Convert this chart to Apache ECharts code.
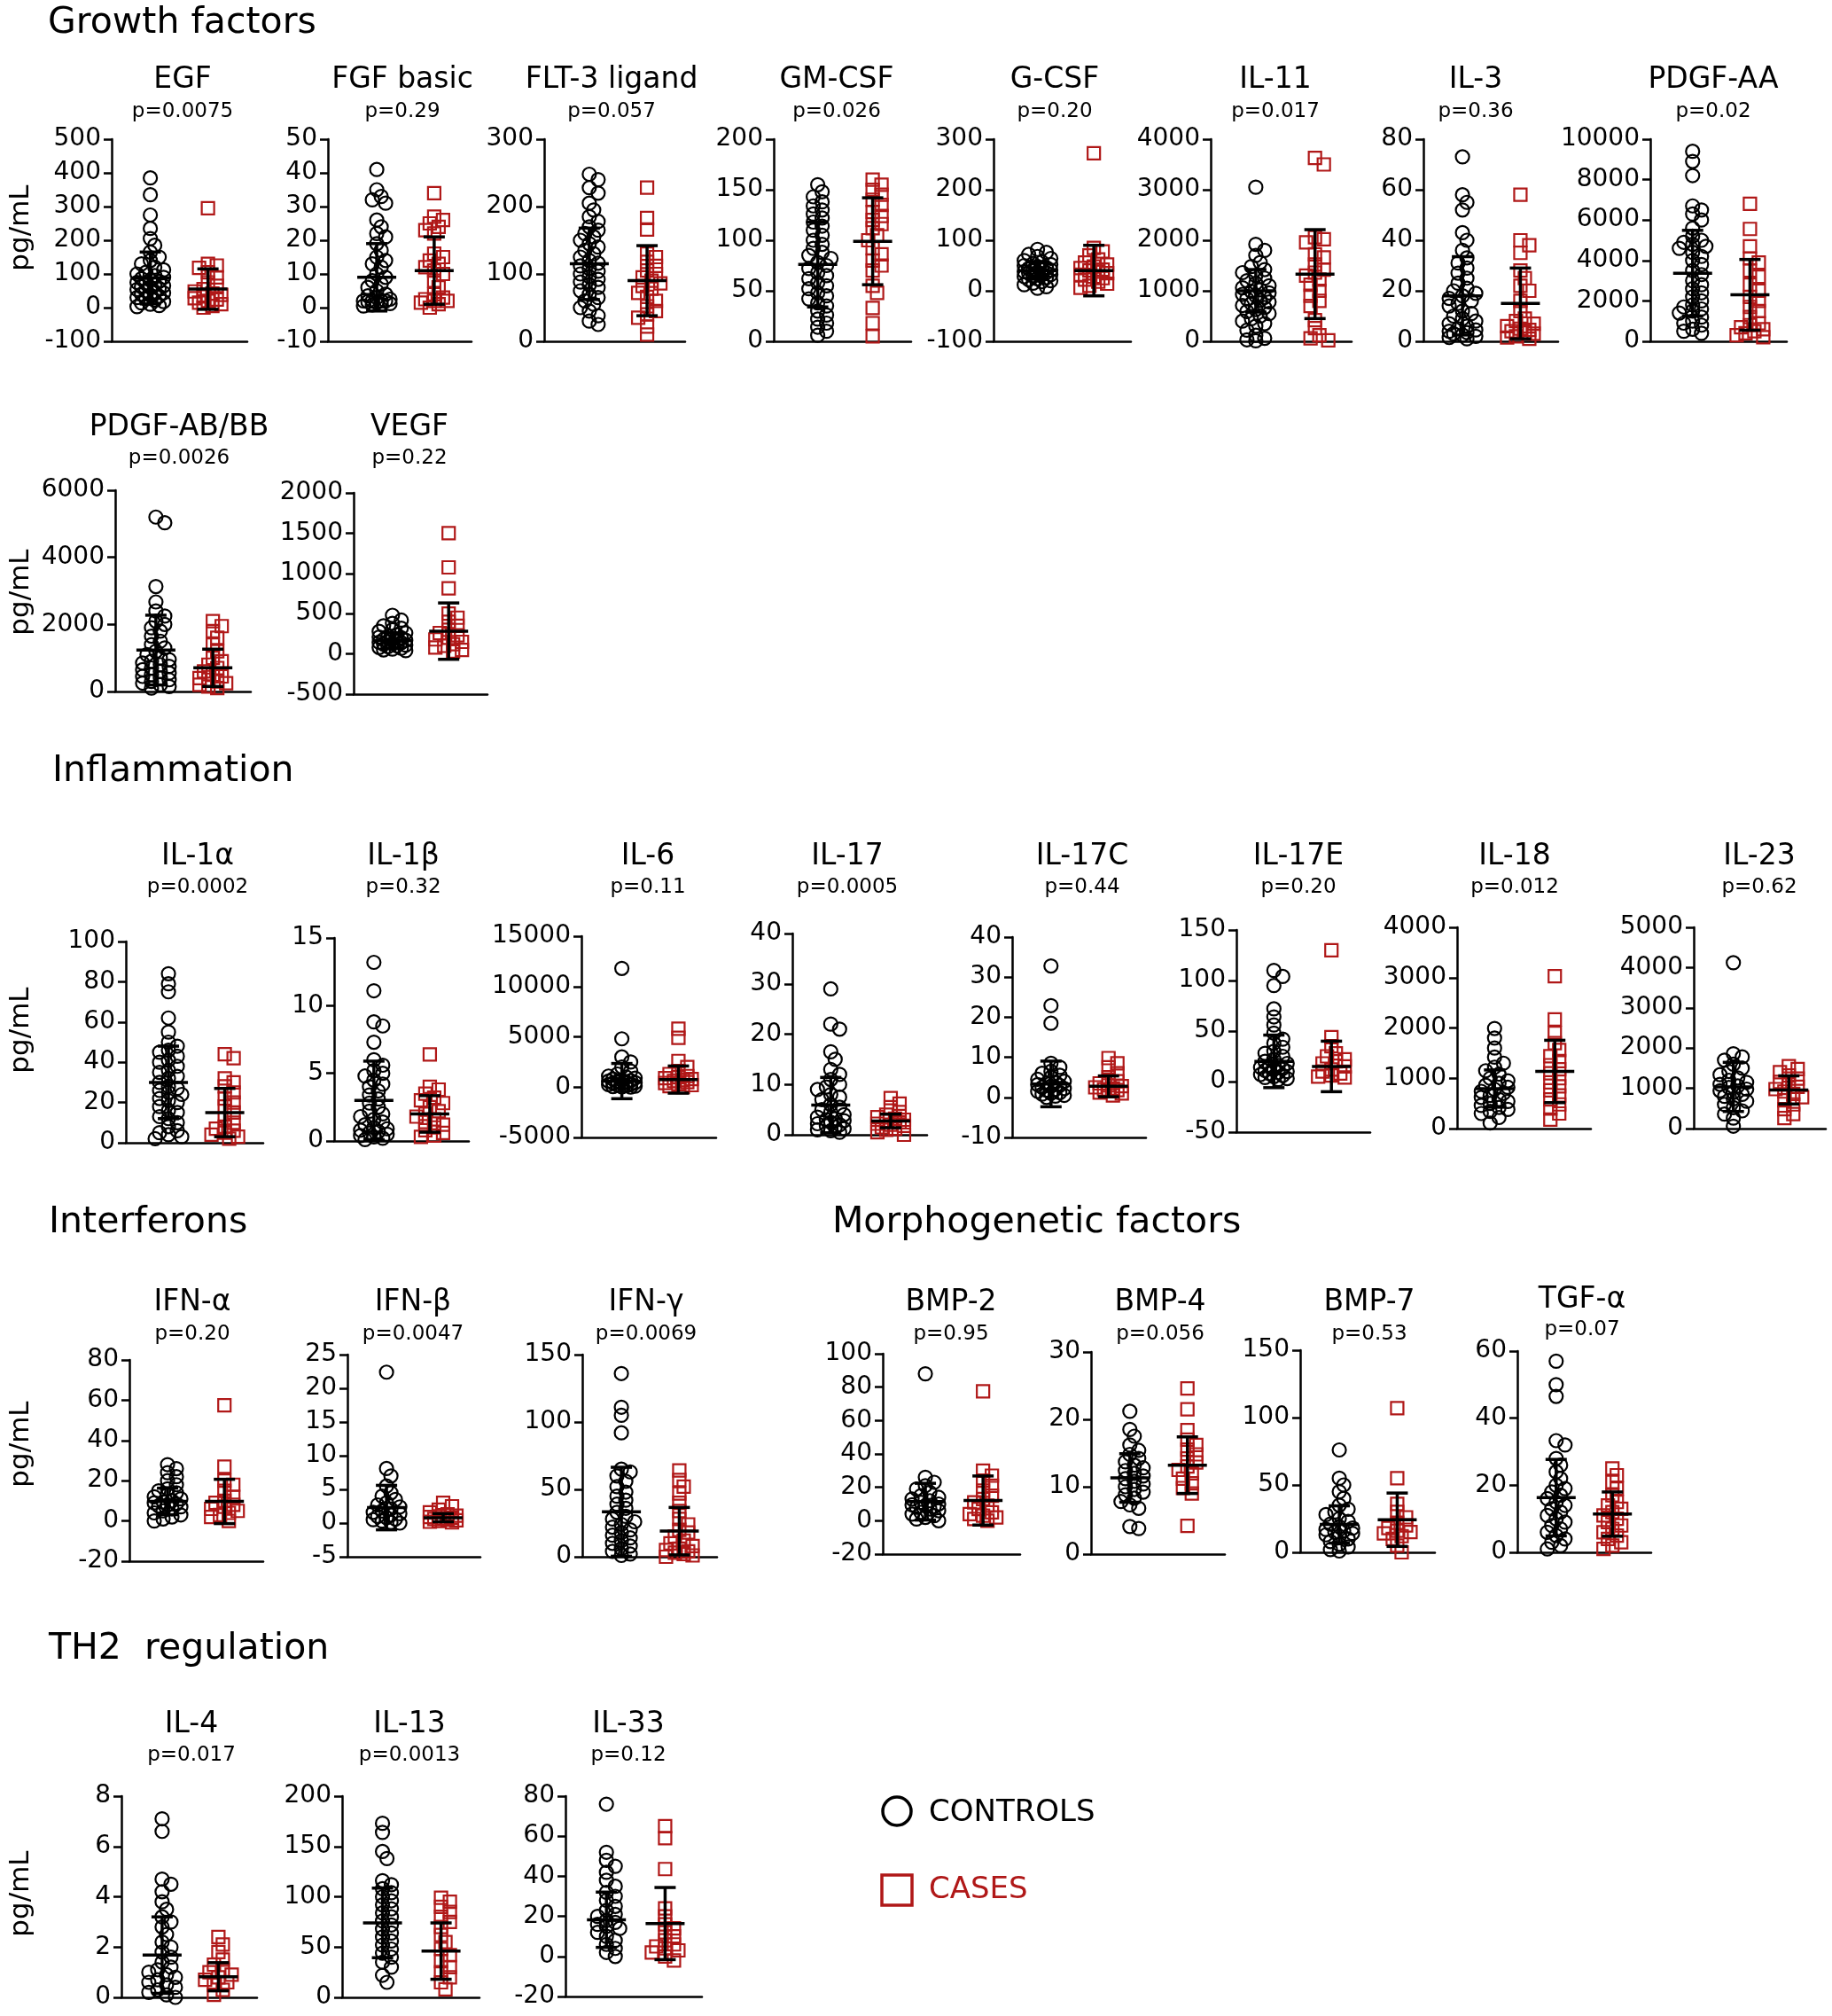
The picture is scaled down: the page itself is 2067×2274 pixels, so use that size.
<!DOCTYPE html>
<html><head><meta charset="utf-8">
<script src="https://cdn.jsdelivr.net/npm/echarts@6/dist/echarts.min.js"></script>
<style>html,body{margin:0;padding:0;background:#fff}#c{width:2067px;height:2274px}</style>
</head><body><div id="c"></div>
<script>
// ---------- DATA (pg/mL) ----------
const egfCtrl = [385,335,275,235,205,185,165,150,140,130,120,112,105,100,95,90,86,82,78,75,72,68,65,62,60,57,54,50,47,44,40,37,34,30,26,22,18,14,10,6,3];
const egfCase = [295,130,125,118,105,90,75,65,55,48,42,38,33,28,24,20,15,10,5,0];
const egfMean = [88,55], egfSD = [77,60];

const fgfCtrl = [41,35,33,32,31,26,24,22,21,19,17,15,14,13,12,10,9,8,7,6,5,4,3.5,3,2.5,2,2,2,2,1.8,1.5,1.2,1,0.8,0.5];
const fgfCase = [34,27,26,25,24,23,22,16,15,14,13,12,11,10,8,6,4,3,2.5,2,2,1.5,1,0];
const fgfMean = [9,11], fgfSD = [10,10];

const flt3Ctrl = [248,240,228,220,205,195,185,178,170,165,160,155,150,145,140,135,130,125,120,116,112,108,104,100,96,92,88,84,80,75,70,65,60,55,50,45,38,30,25];
const flt3Case = [228,183,166,130,125,118,112,105,100,95,90,86,82,78,72,66,60,52,45,40,35,22,10];
const flt3Mean = [115,90], flt3SD = [53,52];

const gmcsfCtrl = [155,148,143,138,134,130,126,122,118,114,110,105,100,96,92,88,85,82,78,75,72,68,65,62,58,55,52,48,45,42,38,35,30,26,22,18,14,10,6];
const gmcsfCase = [160,155,150,145,140,135,128,124,120,116,112,105,100,92,86,80,75,70,55,48,33,18,5];
const gmcsfMean = [76,99], gmcsfSD = [42,43];

const gcsfCtrl = [82,76,72,68,64,60,57,54,52,50,48,46,44,42,41,40,38,37,36,35,33,32,30,28,26,24,22,20,18,15,12,8,5];
const gcsfCase = [272,85,78,70,62,56,52,48,45,42,40,38,35,32,28,25,22,18,14,10,6];
const gcsfMean = [40,40], gcsfSD = [17,50];

const il11Ctrl = [3050,1920,1800,1700,1560,1480,1420,1360,1300,1250,1200,1150,1100,1060,1020,990,960,930,900,870,840,810,780,750,710,670,630,590,550,500,450,400,350,300,220,120,60,30,10];
const il11Case = [3630,3500,2060,2020,1960,1720,1660,1520,1420,1360,1300,1220,1120,1000,900,800,700,420,260,120,60,20];
const il11Mean = [1000,1330], il11SD = [420,880];

const il3Ctrl = [73,58,55,52,43,40,36,33,31,29,27,25,23,21,20,19,18,17,16,15,14,12,11,10,9,8,7,6,5,4.5,4,3.5,3,2.5,2,1.5,1];
const il3Case = [58,40,38,35,28,25,22,20,16,12,9,8,7,6,5,4.5,4,3.5,3,2,1.5,1];
const il3Mean = [18,15], il3SD = [15.5,14];

const pdgfaaCtrl = [9400,8900,8200,6700,6500,6300,6000,5600,5200,5000,4900,4800,4700,4600,4400,4200,4000,3800,3500,3300,3000,2800,2600,2400,2200,2000,1800,1700,1600,1500,1400,1200,1000,900,800,600,500,400];
const pdgfaaCase = [6800,5560,4700,4100,3900,3500,3200,2800,2500,2200,2000,1700,1500,1200,900,800,700,600,500,400,300,200];
const pdgfaaMean = [3370,2300], pdgfaaSD = [2120,1750];

const pdgfabCtrl = [5200,5030,3130,2670,2400,2250,2100,2000,1900,1800,1650,1500,1400,1300,1200,1100,1000,950,900,850,800,750,700,650,600,550,500,450,400,350,300,250,200,150,100];
const pdgfabCase = [2100,1950,1800,1600,1400,1200,1000,900,800,700,600,500,450,400,350,300,250,200,150,100];
const pdgfabMean = [1235,706], pdgfabSD = [1040,556];

const vegfCtrl = [480,420,380,350,320,300,280,260,240,220,210,200,190,180,170,160,150,145,140,130,120,110,100,90,80,70,60,50,40];
const vegfCase = [1500,1075,815,500,450,400,350,300,260,230,200,180,150,120,100,80,50,30];
const vegfMean = [165,283], vegfSD = [100,350];

const il1aCtrl = [84,79,75,62,55,50,48,46,45,43,41,40,38,36,35,33,32,30,28,27,26,25,24,22,21,20,18,16,15,13,12,10,8,6,5,4,3,2];
const il1aCase = [44,42,32,30,28,25,22,20,18,15,12,10,8,7,6,5,4,3,2];
const il1aMean = [30,15], il1aSD = [18,12];

const il1bCtrl = [13.2,11.1,8.8,8.5,7.3,6,5.6,5.2,5,4.8,4.5,4.2,4,3.7,3.4,3.1,2.8,2.5,2.2,2,1.8,1.6,1.4,1.2,1,0.9,0.8,0.7,0.6,0.5,0.4,0.3,0.2,0.1];
const il1bCase = [6.4,4,3.8,3.5,3.2,3,2.8,2.5,2.2,2,1.8,1.6,1.4,1.2,1,0.8,0.6,0.4,0.3];
const il1bMean = [3.0,2.0], il1bSD = [2.9,1.35];

const il6Ctrl = [11800,4800,3000,2500,2000,1600,1300,1100,1000,900,800,700,650,600,550,500,450,400,350,300,250,200,150,100,50,20,0];
const il6Case = [5800,4900,2600,2000,1600,1300,1100,1000,900,800,700,600,500,400,300,200,100,0];
const il6Mean = [600,750], il6SD = [1750,1350];

const il17Ctrl = [29,22,21,16.5,15,13,12,11,10,9.5,9,8,7.5,7,6,5.5,5,4.5,4,3.5,3.2,3,2.8,2.5,2.2,2,1.8,1.5,1.2,1,0.8,0.5];
const il17Case = [7.3,6.2,5.5,4.5,4,3.5,3.2,3,2.8,2.5,2.2,2,1.8,1.5,1.2,1,0.5,0];
const il17Mean = [5.9,2.75], il17SD = [5.5,1.35];

const il17cCtrl = [32.8,22.9,18.5,8.5,7.5,6.5,6,5.5,5,4.5,4,3.8,3.5,3.2,3,2.8,2.5,2.2,2,1.8,1.5,1.2,1,0.8,0.5,0.3,0];
const il17cCase = [9.8,8.5,7.5,6,5,4,3.5,3,2.8,2.5,2.2,2,1.8,1.5,1.2,1,0.5];
const il17cMean = [3.35,2.75], il17cSD = [5.7,2.6];

const il17eCtrl = [110,104,95,72,64,56,48,42,38,34,30,28,25,22,20,18,16,15,14,13,12,11,10,9,8,7,6,5,4,3,2];
const il17eCase = [130,44,35,28,25,22,20,18,15,12,10,8,6,5,4];
const il17eMean = [20,15], il17eSD = [26,25];

const il18Ctrl = [1990,1800,1600,1420,1300,1220,1150,1080,1000,950,900,860,820,780,740,700,660,620,580,540,500,460,420,380,340,300,220,110];
const il18Case = [3030,2170,1900,1700,1560,1440,1340,1260,1180,1100,1000,920,840,760,660,580,480,400,300,180];
const il18Mean = [795,1135], il18SD = [370,620];

const il23Ctrl = [4120,1860,1780,1700,1600,1500,1420,1340,1260,1200,1150,1100,1060,1020,980,940,900,850,800,740,680,600,520,440,360,260,60];
const il23Case = [1550,1480,1400,1320,1240,1160,1100,1040,980,920,860,780,700,600,480,360,260];
const il23Mean = [1035,960], il23SD = [610,350];

const ifnaCtrl = [28,26,24,22,20,18,16,15,14,13,12,11,10,9.5,9,8.5,8,7.5,7,6,5,4,3,2,1,0];
const ifnaCase = [57.5,27,20,18,15,12,10,9,8,7,6,5,4,3,2,0];
const ifnaMean = [9.7,9.7], ifnaSD = [6.6,11];

const ifnbCtrl = [22.4,8.1,7,5.5,4.5,4,3.5,3,2.7,2.4,2.1,1.8,1.6,1.4,1.2,1,0.8,0.6,0.5,0.3,0.1,0];
const ifnbCase = [3,2.5,2,1.6,1.3,1.1,1,0.9,0.8,0.7,0.6,0.5,0.4,0.3,0.2,0.1];
const ifnbMean = [2.3,0.8], ifnbSD = [3.3,0.6];

const ifngCtrl = [136,111,105,92,65,63,60,56,52,48,45,42,39,36,33,30,28,26,24,22,20,18,16,14,12,10,8,6,4,2,1];
const ifngCase = [64,57,52,47,40,34,28,24,20,18,15,12,10,8,6,5,4,3,2,1,0];
const ifngMean = [33.4,19], ifngSD = [33,17.6];

const bmp2Ctrl = [88,26,23,21,19,17,15,14,13,12,11,10,9.5,9,8.5,8,7,6,5,4,3,2,1,0];
const bmp2Case = [77.5,30,27,24,21,18,15,13,11,9,7,5,4,3,2,1,0];
const bmp2Mean = [11.4,12.1], bmp2SD = [11,14.7];

const bmp4Ctrl = [21.2,18.5,17.5,16.2,15.4,14.8,14.2,13.7,13.2,12.8,12.4,12,11.6,11.2,10.8,10.4,10,9.6,9.2,8.8,8.3,7.8,7.3,6.8,4.1,3.8];
const bmp4Case = [24.6,21.5,18.4,17,16.2,15.5,14.8,14.2,13.6,13,12.5,12,11.2,10.5,9.8,9,4.2];
const bmp4Mean = [11.3,13.2], bmp4SD = [3.6,4.2];

const bmp7Ctrl = [76,55,50,45,40,35,32,30,28,25,23,21,19,18,17,16,15,14,13,12,10,8,6,4,2,1];
const bmp7Case = [107,55,36,30,26,22,20,18,16,15,14,12,10,5,0];
const bmp7Mean = [20.7,24.2], bmp7SD = [13.8,19.8];

const tgfaCtrl = [57,50,46.5,33.3,32,28,26,24,22,20,19,18,17,16,15,14,13,12,11,10,9,8,7,6,5,4,3,2,1];
const tgfaCase = [25,23,21,19,17,15,14,13,12,11,10,9,8,7,6,5,4,3,2,1];
const tgfaMean = [16.3,11.4], tgfaSD = [11.4,6.6];

const il4Ctrl = [7.1,6.6,4.7,4.5,4.2,3.8,3.5,3.2,3,2.8,2.5,2.2,2,1.8,1.6,1.4,1.2,1.1,1,0.9,0.8,0.7,0.6,0.5,0.4,0.3,0.2,0.1,0];
const il4Case = [2.4,2.1,1.8,1.5,1.3,1.1,1,0.9,0.8,0.7,0.6,0.5,0.3,0.1];
const il4Mean = [1.68,0.82], il4SD = [1.52,0.56];

const il13Ctrl = [173,164,145,138,116,112,108,104,100,96,92,88,84,80,76,72,68,64,60,56,52,48,44,40,35,30,22,15];
const il13Case = [99,95,90,85,80,75,70,62,55,48,42,36,30,25,20,15,8];
const il13Mean = [74,46], il13SD = [34.6,28];

const il33Ctrl = [76,52,48,45,42,38,35,32,30,28,25,23,21,20,18,17,16,15,14,12,10,8,6,4,2,0];
const il33Case = [65,59,43.6,24,20,16,14,12,10,8,6,5,4,3,2,0,-2];
const il33Mean = [18.3,16.4], il33SD = [13.8,18];

// ---------- PANELS (text + axis ranges + layout) ----------
const panels = [
 {n:'EGF',p:'p=0.0075',c:egfCtrl,k:egfCase,m:egfMean,s:egfSD,min:-100,max:500,iv:100,L:126,R:279,T:157,B:385,tx:206,ty:90,py:126,cx:.285,kx:.71},
 {n:'FGF basic',p:'p=0.29',c:fgfCtrl,k:fgfCase,m:fgfMean,s:fgfSD,min:-10,max:50,iv:10,L:370,R:532,T:157,B:385,tx:454,ty:90,py:126,cx:.34,kx:.74},
 {n:'FLT-3 ligand',p:'p=0.057',c:flt3Ctrl,k:flt3Case,m:flt3Mean,s:flt3SD,min:0,max:300,iv:100,L:614,R:773,T:157,B:385,tx:690,ty:90,py:126,cx:.32,kx:.73},
 {n:'GM-CSF',p:'p=0.026',c:gmcsfCtrl,k:gmcsfCase,m:gmcsfMean,s:gmcsfSD,min:0,max:200,iv:50,L:873,R:1028,T:157,B:385,tx:944,ty:90,py:126,cx:.32,kx:.72},
 {n:'G-CSF',p:'p=0.20',c:gcsfCtrl,k:gcsfCase,m:gcsfMean,s:gcsfSD,min:-100,max:300,iv:100,L:1121,R:1276,T:157,B:385,tx:1190,ty:90,py:126,cx:.32,kx:.73},
 {n:'IL-11',p:'p=0.017',c:il11Ctrl,k:il11Case,m:il11Mean,s:il11SD,min:0,max:4000,iv:1000,L:1366,R:1525,T:157,B:385,tx:1439,ty:90,py:126,cx:.32,kx:.74},
 {n:'IL-3',p:'p=0.36',c:il3Ctrl,k:il3Case,m:il3Mean,s:il3SD,min:0,max:80,iv:20,L:1606,R:1758,T:157,B:385,tx:1665,ty:90,py:126,cx:.29,kx:.72},
 {n:'PDGF-AA',p:'p=0.02',c:pdgfaaCtrl,k:pdgfaaCase,m:pdgfaaMean,s:pdgfaaSD,min:0,max:10000,iv:2000,L:1862,R:2016,T:157,B:385,tx:1933,ty:90,py:126,cx:.31,kx:.73},

 {n:'PDGF-AB/BB',p:'p=0.0026',c:pdgfabCtrl,k:pdgfabCase,m:pdgfabMean,s:pdgfabSD,min:0,max:6000,iv:2000,L:130,R:283,T:553,B:780,tx:202,ty:482,py:517,cx:.30,kx:.72},
 {n:'VEGF',p:'p=0.22',c:vegfCtrl,k:vegfCase,m:vegfMean,s:vegfSD,min:-500,max:2000,iv:500,L:399,R:550,T:556,B:783,tx:462,ty:482,py:517,cx:.29,kx:.71},

 {n:'IL-1α',p:'p=0.0002',c:il1aCtrl,k:il1aCase,m:il1aMean,s:il1aSD,min:0,max:100,iv:20,L:142,R:297,T:1062,B:1289,tx:223,ty:966,py:1001,cx:.31,kx:.72},
 {n:'IL-1β',p:'p=0.32',c:il1bCtrl,k:il1bCase,m:il1bMean,s:il1bSD,min:0,max:15,iv:5,L:377,R:529,T:1058,B:1287,tx:455,ty:966,py:1001,cx:.295,kx:.71},
 {n:'IL-6',p:'p=0.11',c:il6Ctrl,k:il6Case,m:il6Mean,s:il6SD,min:-5000,max:15000,iv:5000,L:656,R:808,T:1056,B:1283,tx:731,ty:966,py:1001,cx:.30,kx:.72},
 {n:'IL-17',p:'p=0.0005',c:il17Ctrl,k:il17Case,m:il17Mean,s:il17SD,min:0,max:40,iv:10,L:894,R:1046,T:1053,B:1280,tx:956,ty:966,py:1001,cx:.285,kx:.73},
 {n:'IL-17C',p:'p=0.44',c:il17cCtrl,k:il17cCase,m:il17cMean,s:il17cSD,min:-10,max:40,iv:10,L:1142,R:1293,T:1057,B:1283,tx:1221,ty:966,py:1001,cx:.29,kx:.72},
 {n:'IL-17E',p:'p=0.20',c:il17eCtrl,k:il17eCase,m:il17eMean,s:il17eSD,min:-50,max:150,iv:50,L:1395,R:1546,T:1049,B:1277,tx:1465,ty:966,py:1001,cx:.28,kx:.71},
 {n:'IL-18',p:'p=0.012',c:il18Ctrl,k:il18Case,m:il18Mean,s:il18SD,min:0,max:4000,iv:1000,L:1644,R:1795,T:1046,B:1273,tx:1709,ty:966,py:1001,cx:.28,kx:.73},
 {n:'IL-23',p:'p=0.62',c:il23Ctrl,k:il23Case,m:il23Mean,s:il23SD,min:0,max:5000,iv:1000,L:1911,R:2060,T:1046,B:1273,tx:1985,ty:966,py:1001,cx:.30,kx:.72},

 {n:'IFN-α',p:'p=0.20',c:ifnaCtrl,k:ifnaCase,m:ifnaMean,s:ifnaSD,min:-20,max:80,iv:20,L:146,R:297,T:1534,B:1761,tx:217,ty:1469,py:1505,cx:.285,kx:.71},
 {n:'IFN-β',p:'p=0.0047',c:ifnbCtrl,k:ifnbCase,m:ifnbMean,s:ifnbSD,min:-5,max:25,iv:5,L:392,R:542,T:1528,B:1756,tx:466,ty:1469,py:1505,cx:.294,kx:.72},
 {n:'IFN-γ',p:'p=0.0069',c:ifngCtrl,k:ifngCase,m:ifngMean,s:ifngSD,min:0,max:150,iv:50,L:657,R:809,T:1528,B:1756,tx:729,ty:1469,py:1505,cx:.29,kx:.72},
 {n:'BMP-2',p:'p=0.95',c:bmp2Ctrl,k:bmp2Case,m:bmp2Mean,s:bmp2SD,min:-20,max:100,iv:20,L:996,R:1151,T:1527,B:1753,tx:1073,ty:1469,py:1505,cx:.31,kx:.73},
 {n:'BMP-4',p:'p=0.056',c:bmp4Ctrl,k:bmp4Case,m:bmp4Mean,s:bmp4SD,min:0,max:30,iv:10,L:1231,R:1382,T:1525,B:1753,tx:1309,ty:1469,py:1505,cx:.29,kx:.72},
 {n:'BMP-7',p:'p=0.53',c:bmp7Ctrl,k:bmp7Case,m:bmp7Mean,s:bmp7SD,min:0,max:150,iv:50,L:1467,R:1619,T:1523,B:1751,tx:1545,ty:1469,py:1505,cx:.29,kx:.72},
 {n:'TGF-α',p:'p=0.07',c:tgfaCtrl,k:tgfaCase,m:tgfaMean,s:tgfaSD,min:0,max:60,iv:20,L:1712,R:1863,T:1524,B:1751,tx:1785,ty:1466,py:1500,cx:.29,kx:.71},

 {n:'IL-4',p:'p=0.017',c:il4Ctrl,k:il4Case,m:il4Mean,s:il4SD,min:0,max:8,iv:2,L:137,R:290,T:2026,B:2253,tx:216,ty:1945,py:1980,cx:.30,kx:.715},
 {n:'IL-13',p:'p=0.0013',c:il13Ctrl,k:il13Case,m:il13Mean,s:il13SD,min:0,max:200,iv:50,L:386,R:541,T:2026,B:2253,tx:462,ty:1945,py:1980,cx:.294,kx:.72},
 {n:'IL-33',p:'p=0.12',c:il33Ctrl,k:il33Case,m:il33Mean,s:il33SD,min:-20,max:80,iv:20,L:638,R:792,T:2026,B:2252,tx:709,ty:1945,py:1980,cx:.30,kx:.73}
];

const sections = [
 ['Growth factors',54,26],['Inflammation',59,870],['Interferons',55,1379],
 ['Morphogenetic factors',939,1379],['TH2  regulation',55,1860]
];
const ylabelY = [257,668,1162,1629,2136];

const RED = '#b01818';
const FONT = 'DejaVu Sans';

// deterministic beeswarm: spreads points sideways only when they collide
function swarm(vals, center, p, W, H){
  const scale = H/(p.max-p.min), ux = 100/W;
  const sorted = vals.slice().sort((a,b)=>b-a);
  const placed=[], out=[];
  const cands=[0,5,-5,10,-10,15,-15];
  const minD=9;
  sorted.forEach(v=>{
    const py=(v-p.min)*scale;
    let best=0,bestD=-1;
    for(const c of cands){
      let d=Infinity;
      for(const q of placed){const dd=Math.hypot(q[0]-c,q[1]-py); if(dd<d)d=dd;}
      if(d>=minD){best=c;bestD=d;break;}
      if(d>bestD){bestD=d;best=c;}
    }
    placed.push([best,py]);
    out.push([center+best*ux, v]);
  });
  return out;
}

const grids=[],xAxes=[],yAxes=[],series=[],graphics=[];
panels.forEach((p,i)=>{
  const W=p.R-p.L,H=p.B-p.T;
  grids.push({left:p.L,top:p.T,width:W,height:H});
  xAxes.push({type:'value',gridIndex:i,min:0,max:100,
    axisLine:{show:true,onZero:false,lineStyle:{color:'#000',width:2.5}},
    axisTick:{show:false},axisLabel:{show:false},splitLine:{show:false}});
  yAxes.push({type:'value',gridIndex:i,min:p.min,max:p.max,interval:p.iv,
    axisLine:{show:true,onZero:false,lineStyle:{color:'#000',width:2.5}},
    axisTick:{show:true,length:9,lineStyle:{color:'#000',width:2.5}},
    axisLabel:{color:'#000',fontFamily:FONT,fontSize:28,margin:12,formatter:v=>String(v)},
    splitLine:{show:false}});
  series.push({type:'scatter',xAxisIndex:i,yAxisIndex:i,symbol:'circle',symbolSize:15,silent:true,
    data:swarm(p.c,p.cx*100,p,W,H),
    itemStyle:{color:'rgba(255,255,255,0)',borderColor:'#000',borderWidth:2.2,opacity:1}});
  series.push({type:'scatter',xAxisIndex:i,yAxisIndex:i,symbol:'rect',symbolSize:14,silent:true,
    data:swarm(p.k,p.kx*100,p,W,H),
    itemStyle:{color:'rgba(255,255,255,0)',borderColor:RED,borderWidth:2.2,opacity:1}});
  series.push({type:'custom',xAxisIndex:i,yAxisIndex:i,z:5,silent:true,clip:false,
    data:[[p.cx*100,p.m[0],p.s[0]],[p.kx*100,p.m[1],p.s[1]]],
    encode:{x:0,y:1},
    renderItem:(params,api)=>{
      const x=api.value(0),m=api.value(1),s=api.value(2);
      const c=api.coord([x,m]),t=api.coord([x,m+s]),b=api.coord([x,m-s]);
      const st={stroke:'#000',lineWidth:3.5};
      return {type:'group',children:[
        {type:'line',shape:{x1:c[0],y1:t[1],x2:c[0],y2:b[1]},style:st},
        {type:'line',shape:{x1:c[0]-22,y1:c[1],x2:c[0]+22,y2:c[1]},style:st},
        {type:'line',shape:{x1:c[0]-12,y1:t[1],x2:c[0]+12,y2:t[1]},style:st},
        {type:'line',shape:{x1:c[0]-12,y1:b[1],x2:c[0]+12,y2:b[1]},style:st}]};
    }});
  graphics.push({type:'text',x:p.tx,y:p.ty,style:{text:p.n,fill:'#000',fontFamily:FONT,fontSize:33,align:'center',verticalAlign:'middle'}});
  graphics.push({type:'text',x:p.tx,y:p.py,style:{text:p.p,fill:'#000',fontFamily:FONT,fontSize:23,align:'center',verticalAlign:'middle'}});
});
sections.forEach(s=>graphics.push({type:'text',x:s[1],y:s[2],style:{text:s[0],fill:'#000',fontFamily:FONT,fontSize:41,align:'left',verticalAlign:'middle'}}));
ylabelY.forEach(y=>graphics.push({type:'text',x:24,y:y,rotation:Math.PI/2,style:{text:'pg/mL',fill:'#000',fontFamily:FONT,fontSize:31,align:'center',verticalAlign:'middle'}}));
// legend
graphics.push({type:'circle',shape:{cx:1012,cy:2043,r:16},style:{fill:'none',stroke:'#000',lineWidth:3.5}});
graphics.push({type:'text',x:1048,y:2045,style:{text:'CONTROLS',fill:'#000',fontFamily:FONT,fontSize:34,align:'left',verticalAlign:'middle'}});
graphics.push({type:'rect',shape:{x:995,y:2115,width:34,height:34},style:{fill:'none',stroke:RED,lineWidth:3.5}});
graphics.push({type:'text',x:1048,y:2132,style:{text:'CASES',fill:RED,fontFamily:FONT,fontSize:34,align:'left',verticalAlign:'middle'}});

const chart=echarts.init(document.getElementById('c'),null,{renderer:'canvas'});
chart.setOption({backgroundColor:'#fff',animation:false,grid:grids,xAxis:xAxes,yAxis:yAxes,series:series,graphic:graphics});
</script></body></html>
